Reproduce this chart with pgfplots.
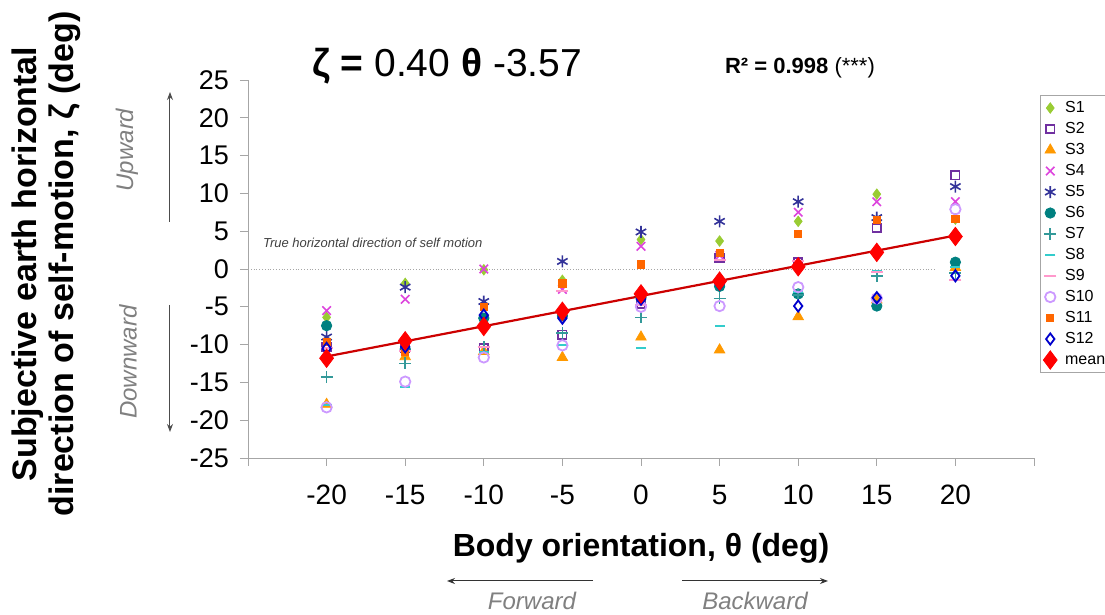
\documentclass[border=0pt]{standalone}
\usepackage{fontspec}
\setmainfont{Liberation Sans}
\usepackage{pgfplots}
\pgfplotsset{compat=1.18}
\usetikzlibrary{arrows.meta}
\definecolor{cS1}{RGB}{153,204,51}
\definecolor{cS2}{RGB}{112,48,160}
\definecolor{cS3}{RGB}{255,153,0}
\definecolor{cS4}{RGB}{221,68,221}
\definecolor{cS5}{RGB}{51,51,153}
\definecolor{cS6}{RGB}{0,128,128}
\definecolor{cS7}{RGB}{51,153,153}
\definecolor{cS8}{RGB}{51,204,204}
\definecolor{cS9}{RGB}{255,153,204}
\definecolor{cS10}{RGB}{204,153,255}
\definecolor{cS11}{RGB}{255,102,0}
\definecolor{cS12}{RGB}{0,0,204}
\definecolor{cMean}{RGB}{255,0,0}
\definecolor{cLine}{RGB}{204,0,0}
\begin{document}
\begin{tikzpicture}
\useasboundingbox (-124pt,-78.5pt) rectangle (428.5pt,229pt);
\begin{axis}[
  at={(0,0)}, anchor=south west,
  scale only axis, width=393pt, height=189pt,
  xmin=-25, xmax=25, ymin=-25, ymax=25,
  axis x line=bottom, axis y line=left,
  axis line style={gray!70,-},
  xtick={-25,-20,...,25},
  xticklabels={{},-20,-15,-10,-5,0,5,10,15,20,{}},
  ytick={-25,-20,...,25},
  yticklabels={-25,-20,-15,-10,-5,0,5,10,15,20,25},
  tick align=outside, major tick length=4pt,
  tick style={gray!70, thin},
  xticklabel style={font=\fontsize{14}{14}\selectfont, yshift=-6pt},
  yticklabel style={font=\fontsize{13.5}{13.5}\selectfont, xshift=-2pt},
  clip=false,
  legend cell align=left,
  legend image post style={xshift=3.5pt},
  legend style={at={(1.0076,0.96)}, anchor=north west, draw=gray!70,
    font=\fontsize{8}{9}\selectfont, inner sep=1.5pt,
    nodes={inner sep=1pt, text height=6pt, text depth=1.5pt},
    column sep=1pt,
    /tikz/every odd column/.append style={column sep=3pt},
    row sep=1pt},
]
\addplot[gray!70, densely dotted, forget plot] coordinates {(-25,0) (18.7,0)};

\addplot[only marks, mark=diamond*, mark size=2.6pt, color=cS1] coordinates {
(-20,-6.4) (-15,-1.9) (-10,-0.1) (-5,-1.5) (0,3.9) (5,3.7) (10,6.3) (15,9.9) (20,6.6)};
\addlegendentry{S1}
\addplot[only marks, mark=square, mark size=2.1pt, line width=0.9pt, color=cS2] coordinates {
(-20,-10.3) (-15,-10.5) (-10,-10.5) (-5,-8.7) (0,-4.6) (5,1.5) (10,0.9) (15,5.4) (20,12.4)};
\addlegendentry{S2}
\addplot[only marks, mark=triangle*, mark size=3pt, color=cS3] coordinates {
(-20,-17.9) (-15,-11.6) (-10,-10.9) (-5,-11.7) (0,-9.0) (5,-10.7) (10,-6.3) (15,-4.1) (20,0.2)};
\addlegendentry{S3}
\addplot[only marks, mark=x, mark size=3pt, line width=0.8pt, color=cS4] coordinates {
(-20,-5.5) (-15,-4.0) (-10,0.0) (-5,-2.7) (0,3.0) (5,1.8) (10,7.5) (15,8.9) (20,8.9)};
\addlegendentry{S4}
\addplot[only marks, mark=asterisk, mark size=3pt, line width=0.8pt, color=cS5] coordinates {
(-20,-9.0) (-15,-2.4) (-10,-4.3) (-5,1.0) (0,4.9) (5,6.3) (10,8.9) (15,6.8) (20,10.9)};
\addlegendentry{S5}
\addplot[only marks, mark=*, mark size=2.6pt, color=cS6] coordinates {
(-20,-7.5) (-15,-10.6) (-10,-6.5) (-5,-6.2) (0,-3.8) (5,-2.3) (10,-3.3) (15,-4.9) (20,0.9)};
\addlegendentry{S6}
\addplot[only marks, mark=+, mark size=3pt, line width=0.8pt, color=cS7] coordinates {
(-20,-14.3) (-15,-12.5) (-10,-10.3) (-5,-8.5) (0,-6.4) (5,-3.9) (10,-3.4) (15,-0.9) (20,-0.5)};
\addlegendentry{S7}
\addplot[only marks, mark=-, mark size=2.5pt, line width=1pt, color=cS8] coordinates {
(-20,-18.0) (-15,-15.6) (-10,-11.0) (-5,-10.0) (0,-10.4) (5,-7.5) (10,-3.0) (15,-0.3) (20,0.3)};
\addlegendentry{S8}
\addplot[only marks, mark=-, mark size=3pt, line width=1pt, color=cS9] coordinates {
(-20,-10.5) (-15,-10.8) (-10,-10.3) (-5,-2.9) (0,-4.8) (5,1.2) (10,1.0) (15,-0.4) (20,-1.4)};
\addlegendentry{S9}
\addplot[only marks, mark=o, mark size=2.6pt, line width=0.9pt, color=cS10] coordinates {
(-20,-18.3) (-15,-14.9) (-10,-11.7) (-5,-10.1) (0,-5.0) (5,-4.9) (10,-2.4) (15,-3.9) (20,7.9)};
\addlegendentry{S10}
\addplot[only marks, mark=square*, mark size=1.8pt, color=cS11] coordinates {
(-20,-9.6) (-15,-11.0) (-10,-5.0) (-5,-1.9) (0,0.6) (5,2.1) (10,4.6) (15,6.5) (20,6.6)};
\addlegendentry{S11}
\addplot[only marks, mark=diamond, mark size=2.8pt, line width=0.9pt, color=cS12] coordinates {
(-20,-10.5) (-15,-10.3) (-10,-6.1) (-5,-6.5) (0,-4.0) (5,-2.0) (10,-4.9) (15,-3.8) (20,-0.9)};
\addlegendentry{S12}

\addplot[cLine, line width=1.1pt, forget plot] coordinates {(-20,-11.57) (20,4.43)};

\addplot[only marks, mark=diamond*, mark size=4.6pt, color=cMean] coordinates {
(-20,-11.8) (-15,-9.5) (-10,-7.6) (-5,-5.6) (0,-3.3) (5,-1.6) (10,0.3) (15,2.2) (20,4.3)};
\addlegendentry{mean}
\end{axis}

% annotations
\node[font=\fontsize{19.5}{19.5}\selectfont] at (99.5pt,196pt) {\textbf{ζ =} 0.40 \textbf{θ} -3.57};
\node[font=\fontsize{11}{11}\selectfont] at (276pt,195pt) {\textbf{R² = 0.998} (***)};
\node[anchor=west, font=\itshape\fontsize{6.5}{7}\selectfont, text=black!75] at (4pt,107.5pt) {True horizontal direction of self motion};

\node[rotate=90, align=center, font=\bfseries\fontsize{17}{18.5}\selectfont] at (-101pt,97pt) {Subjective earth horizontal\\direction of self-motion, ζ (deg)};
\node[font=\bfseries\fontsize{16}{16}\selectfont] at (196.5pt,-45pt) {Body orientation, θ (deg)};

\draw[-{Stealth[length=4pt,width=3pt]}, black!70, line width=0.5pt] (-39pt,118pt) -- (-39pt,183pt);
\draw[-{Stealth[length=4pt,width=3pt]}, black!70, line width=0.5pt] (-39pt,76.5pt) -- (-39pt,13pt);
\node[rotate=90, font=\itshape\fontsize{12}{12}\selectfont, text=gray] at (-60.5pt,154pt) {Upward};
\node[rotate=90, font=\itshape\fontsize{12}{12}\selectfont, text=gray] at (-60pt,48pt) {Downward};

\draw[-{Stealth[length=4pt,width=3pt]}, black!80, line width=0.5pt] (172.5pt,-61.5pt) -- (99.5pt,-61.5pt);
\draw[-{Stealth[length=4pt,width=3pt]}, black!80, line width=0.5pt] (217pt,-61.5pt) -- (290pt,-61.5pt);
\node[font=\itshape\fontsize{12}{12}\selectfont, text=gray] at (142pt,-71.5pt) {Forward};
\node[font=\itshape\fontsize{12}{12}\selectfont, text=gray] at (253.5pt,-71.5pt) {Backward};
\end{tikzpicture}
\end{document}
